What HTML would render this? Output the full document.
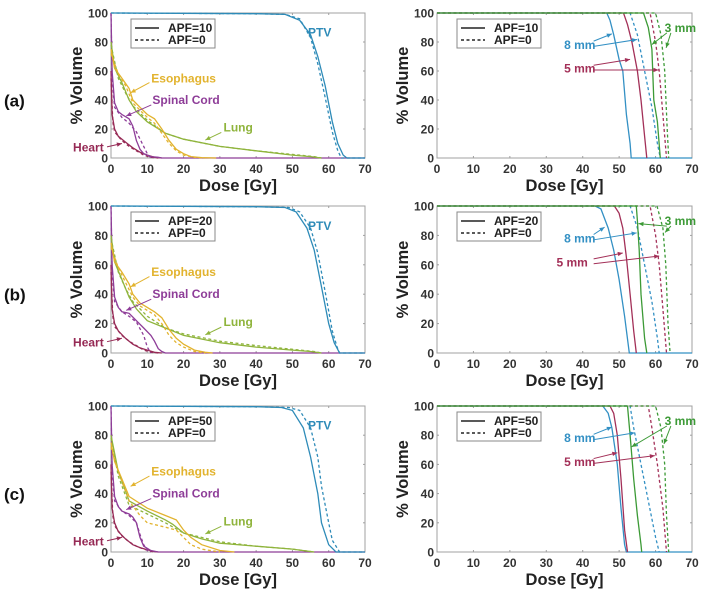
<!DOCTYPE html>
<html><head><meta charset="utf-8"><style>
html,body{margin:0;padding:0;background:#fff;}
svg{display:block;font-family:"Liberation Sans",Arial,sans-serif;}
</style></head><body>
<svg id="fig" width="706" height="594" viewBox="0 0 706 594"></svg>
<script>
// ---------- data (dose Gy, volume %) ----------
const panelLabels = ["(a)","(b)","(c)"];
const apfValues = ["APF=10","APF=20","APF=50"];
const xTicks = [0,10,20,30,40,50,60,70];
const yTicks = [0,20,40,60,80,100];

// Left panels: organ DVH curves
const A_PTV_S=[[0,100],[40,99.5],[48,99],[52,95],[55,85],[57,70],[59,50],[61,25],[62.5,10],[64,2],[65,0],[70,0]];
const A_PTV_D=[[0,100],[40,99.5],[48,99],[52,96],[55,83],[57,65],[59,42],[61,18],[62.5,5],[63.5,0],[70,0]];
const A_ESO_S=[[0,75],[1,62],[3,55],[5,48],[6,40],[8,35],[10,30],[12,27],[14,20],[16,12],[18,6],[20,3],[22,1],[25,0.3],[29,0]];
const A_ESO_D=[[0,72],[2,58],[4,50],[6,38],[8,33],[10,28],[12,24],[14,17],[16,10],[18,5],[20,2],[23,0.5],[26,0]];
const A_LUNG_S=[[0,80],[1,62],[3,52],[5,40],[7,32],[10,25],[15,17],[20,13],[30,8],[40,5],[50,2],[55,1],[58,0]];
const A_LUNG_D=[[0,78],[2,55],[4,45],[6,36],[10,26],[15,17],[20,13],[30,8],[40,5],[50,2.5],[56,1],[58,0]];
const A_CORD_S=[[0,100],[0.3,60],[1,38],[2,32],[3,30],[5,27],[6,22],[7,12],[8,6],[9,3],[11,1],[13,0.5],[14,0],[70,0]];
const A_CORD_D=[[0,100],[0.3,55],[1,35],[3,28],[5,24],[7,18],[9,8],[10,3],[11,0]];
const A_HEART_S=[[0,60],[0.3,30],[1,20],[2,15],[4,11],[6,7],[8,4],[10,2],[12,0.5],[14,0]];
const A_HEART_D=[[0,55],[0.5,25],[1,18],[3,12],[5,8],[7,5],[9,2],[11,0.5],[13,0]];

const B_PTV_S=[[0,100],[40,99.5],[48,99],[51,96],[54,85],[56,70],[58,45],[60,20],[61.5,7],[63,0],[70,0]];
const B_PTV_D=[[0,100],[40,99.5],[49,99],[52,96],[55,85],[57,68],[59,42],[61,15],[62.3,4],[63,0],[70,0]];
const B_ESO_S=[[0,75],[1,62],[3,55],[5,47],[6,40],[8,34],[10,31],[12,28],[14,24],[16,16],[18,10],[20,6],[23,2],[26,0.5],[28,0]];
const B_ESO_D=[[0,72],[2,58],[4,48],[6,38],[8,32],[10,29],[12,26],[14,20],[16,12],[18,7],[20,4],[23,1],[26,0]];
const B_LUNG_S=[[0,80],[1,62],[3,50],[5,38],[7,30],[10,22],[15,17],[20,12],[30,7],[40,4],[50,2],[55,1],[58,0]];
const B_LUNG_D=[[0,78],[2,55],[4,44],[6,35],[10,25],[15,17],[20,13],[30,8],[40,5],[50,2.5],[56,1],[58,0]];
const B_CORD_S=[[0,100],[0.3,60],[1,38],[2,31],[3,28],[5,27],[7,22],[9,17],[11,12],[12,8],[13,3],[14,1],[15,0],[70,0]];
const B_CORD_D=[[0,100],[0.3,55],[1,35],[3,28],[5,25],[7,21],[9,12],[10,4],[11,0]];
const B_HEART_S=[[0,60],[0.3,30],[1,20],[2,15],[4,10],[6,6],[8,3.5],[10,2],[12,0.5],[14,0]];
const B_HEART_D=[[0,55],[0.5,25],[1,18],[3,12],[5,8],[7,5],[9,2],[11,0.5],[13,0]];

const C_PTV_S=[[0,100],[40,99.5],[47,99],[50,97],[53,85],[55,65],[57,40],[58,20],[60,5],[62,0],[70,0]];
const C_PTV_D=[[0,100],[40,99.5],[49,99],[52,97],[55,85],[57,65],[58,45],[60,20],[61,8],[63,0],[70,0]];
const C_ESO_S=[[0,75],[1,62],[3,50],[5,38],[10,30],[15,25],[18,22],[20,15],[22,10],[25,5],[30,1],[34,0]];
const C_ESO_D=[[0,72],[2,55],[5,35],[8,25],[10,20],[15,17],[18,15],[20,10],[22,5],[25,2],[30,0]];
const C_LUNG_S=[[0,80],[2,55],[5,35],[10,28],[15,22],[17,19],[20,13],[25,9],[30,6],[40,4],[50,2],[56,0]];
const C_LUNG_D=[[0,78],[2,52],[5,32],[10,26],[15,20],[20,13],[30,7],[40,4],[50,2],[56,0]];
const C_CORD_S=[[0,100],[0.3,60],[1,38],[2,31],[3,28],[5,26],[6,24],[7,20],[8,10],[9,4],[11,1],[13,0],[70,0]];
const C_CORD_D=[[0,100],[0.3,55],[1,35],[3,28],[5,25],[7,20],[8,12],[9,5],[10,1],[11,0]];
const C_HEART_S=[[0,60],[0.3,30],[1,20],[2,14],[4,9],[6,5],[8,3],[10,1.5],[12,0.3],[13,0]];
const C_HEART_D=[[0,55],[0.5,25],[1,18],[3,11],[5,7],[7,4],[9,2],[11,0.5],[12,0]];

// Right panels: PTV DVH for margins 8/5/3 mm
const A_M8_S=[[0,100],[46.6,100],[47.5,95],[48.5,85],[50,68],[51,60],[52,30],[53,10],[53.3,0],[70,0]];
const A_M8_D=[[0,100],[53,100],[55,85],[57,60],[59,35],[60.5,10],[61.3,0]];
const A_M5_S=[[0,100],[51.2,100],[52.3,92],[53.5,80],[55,60],[56,40],[57,15],[57.6,0]];
const A_M5_D=[[0,100],[58.5,100],[60,80],[61,60],[62,30],[63,0]];
const A_M3_S=[[0,100],[56.7,100],[58,90],[59,75],[59.5,40],[60.5,25],[61.3,0]];
const A_M3_D=[[0,100],[60,100],[61.5,85],[62.5,60],[63.2,20],[63.6,0]];

const B_M8_S=[[0,100],[43.4,100],[45,98],[47,85],[48.5,70],[50,50],[51.5,25],[52.8,0],[70,0]];
const B_M8_D=[[0,100],[53,100],[55,85],[57,60],[59,35],[60.5,10],[61,0]];
const B_M5_S=[[0,100],[48.7,100],[50,95],[51,85],[52,65],[53,40],[54,15],[54.7,0]];
const B_M5_D=[[0,100],[58.5,100],[60,80],[61,60],[62,30],[63,0]];
const B_M3_S=[[0,100],[54.7,100],[55,90],[55.5,70],[56,40],[57,10],[57.6,0]];
const B_M3_D=[[0,100],[60.4,100],[62,85],[62.8,60],[63.4,20],[64,0]];

const C_M8_S=[[0,100],[45.5,100],[47,95],[48,85],[49.5,60],[50.5,30],[51.5,5],[52,0],[70,0]];
const C_M8_D=[[0,100],[53,100],[54,85],[56,60],[58,35],[60,10],[61,0]];
const C_M5_S=[[0,100],[47.5,100],[48.5,95],[49.5,80],[50.5,50],[51.5,15],[52.3,0]];
const C_M5_D=[[0,100],[58,100],[59,85],[60.5,60],[62,30],[63,0]];
const C_M3_S=[[0,100],[52.3,100],[53,80],[54,50],[55,25],[56,5],[56.2,0]];
const C_M3_D=[[0,100],[60,100],[61.5,85],[62.5,60],[63,25],[63.6,0]];

// ---------- rendering ----------
const NS="http://www.w3.org/2000/svg";
const svg=document.getElementById('fig');
const COL={ptv:"#2e8bb8",eso:"#e2b32e",lung:"#8fb43c",cord:"#8e3d98",heart:"#962a55",m8:"#3390c4",m5:"#a33058",m3:"#3c9a36"};
const panelsY=[[13,158],[206,353],[406,552]];
const leftX=[111,365], rightX=[437,692];

function el(tag,attrs,parent){const e=document.createElementNS(NS,tag);for(const k in attrs)e.setAttribute(k,attrs[k]);(parent||svg).appendChild(e);return e;}
function mkScales(xr,yr){return{x:d=>xr[0]+(xr[1]-xr[0])*d/70,y:v=>yr[1]-(yr[1]-yr[0])*v/100};}

function drawAxes(g,s,xr,yr,apf){
  const box=el('rect',{x:xr[0],y:yr[0],width:xr[1]-xr[0],height:yr[1]-yr[0],fill:'#fff',stroke:'#a0a0a0','stroke-width':1},g);
  
  
  xTicks.forEach(t=>{
    const x=s.x(t);
    el('line',{x1:x,y1:yr[1],x2:x,y2:yr[1]-2,stroke:'#a0a0a0'},g);
    el('line',{x1:x,y1:yr[0],x2:x,y2:yr[0]+2,stroke:'#a0a0a0'},g);
    const tx=el('text',{x:x,y:yr[1]+15,'text-anchor':'middle','font-size':12,'font-weight':'bold',fill:'#333'},g);
    tx.textContent=t;
    
    
  });
  yTicks.forEach(t=>{
    const y=s.y(t);
    el('line',{x1:xr[0],y1:y,x2:xr[0]+2,y2:y,stroke:'#a0a0a0'},g);
    el('line',{x1:xr[1],y1:y,x2:xr[1]-2,y2:y,stroke:'#a0a0a0'},g);
    const ty=el('text',{x:xr[0]-3,y:y+4.5,'text-anchor':'end','font-size':12,'font-weight':'bold',fill:'#333'},g);
    ty.textContent=t;
    
    
  });
  const xt=el('text',{x:(xr[0]+xr[1])/2,y:yr[1]+33,'text-anchor':'middle','font-size':16.5,'font-weight':'bold',fill:'#222'},g);
  xt.textContent='Dose [Gy]';
  
  
  const cy=(yr[0]+yr[1])/2, cx=xr[0]-29;
  const yt=el('text',{x:cx,y:cy,'text-anchor':'middle','font-size':16.5,'font-weight':'bold',fill:'#222',transform:`rotate(-90 ${cx} ${cy})`},g);
  yt.textContent='% Volume';
  
  
  // legend
  const lx=xr[0]+20, ly=yr[0]+6;
  const lg=el('g',{},g);
  
  
  el('rect',{x:lx,y:ly,width:84,height:29,fill:'#fff',stroke:'#888'},lg);
  el('line',{x1:lx+4,y1:ly+9,x2:lx+28,y2:ly+9,stroke:'#222','stroke-width':1.5},lg);
  el('line',{x1:lx+4,y1:ly+21,x2:lx+28,y2:ly+21,stroke:'#222','stroke-width':1.5,'stroke-dasharray':'3,2.5'},lg);
  const t1=el('text',{x:lx+37,y:ly+13,'font-size':12,'font-weight':'bold',fill:'#222'},lg);
  t1.textContent=apf;
  
  
  const t2=el('text',{x:lx+37,y:ly+25,'font-size':12,'font-weight':'bold',fill:'#222'},lg);
  t2.textContent='APF=0';
  
  
}

function curve(g,s,pts,color,dashed,name){
  const d=pts.map((p,i)=>(i?'L':'M')+s.x(p[0]).toFixed(1)+','+s.y(p[1]).toFixed(1)).join(' ');
  const p=el('path',{d:d,fill:'none',stroke:color,'stroke-width':1.3,'stroke-dasharray':dashed?'3,2.5':'none'},g);
  
  
}
function label(g,s,d,v,txt,color,anchor,name){
  const t=el('text',{x:s.x(d),y:s.y(v)+4,'font-size':12,'font-weight':'bold',fill:color,'text-anchor':anchor||'start'},g);
  t.textContent=txt;
  
  
}
function arrow(g,s,d1,v1,d2,v2,color){
  const x1=s.x(d1),y1=s.y(v1),x2=s.x(d2),y2=s.y(v2);
  const a=el('line',{x1:x1,y1:y1,x2:x2,y2:y2,stroke:color,'stroke-width':1},g);
  
  
  const ang=Math.atan2(y2-y1,x2-x1),L=5,W=2.2;
  const bx=x2-L*Math.cos(ang),by=y2-L*Math.sin(ang);
  el('polygon',{points:`${x2},${y2} ${bx-W*Math.sin(ang)},${by+W*Math.cos(ang)} ${bx+W*Math.sin(ang)},${by-W*Math.cos(ang)}`,fill:color},g);
}

const leftData=[
 [A_PTV_S,A_PTV_D,A_ESO_S,A_ESO_D,A_LUNG_S,A_LUNG_D,A_CORD_S,A_CORD_D,A_HEART_S,A_HEART_D],
 [B_PTV_S,B_PTV_D,B_ESO_S,B_ESO_D,B_LUNG_S,B_LUNG_D,B_CORD_S,B_CORD_D,B_HEART_S,B_HEART_D],
 [C_PTV_S,C_PTV_D,C_ESO_S,C_ESO_D,C_LUNG_S,C_LUNG_D,C_CORD_S,C_CORD_D,C_HEART_S,C_HEART_D]];
const rightData=[
 [A_M8_S,A_M8_D,A_M5_S,A_M5_D,A_M3_S,A_M3_D],
 [B_M8_S,B_M8_D,B_M5_S,B_M5_D,B_M3_S,B_M3_D],
 [C_M8_S,C_M8_D,C_M5_S,C_M5_D,C_M3_S,C_M3_D]];
const organKeys=['ptv','eso','lung','cord','heart'];
const marginKeys=['m8','m5','m3'];

panelsY.forEach((yr,i)=>{
  const pl=el('text',{x:4,y:(yr[0]+yr[1])/2+21,'font-size':17,'font-weight':'bold',fill:'#111'});
  pl.textContent=panelLabels[i];
  
  

  const gl=el('g',{});
  
  
  const sl=mkScales(leftX,yr);
  drawAxes(gl,sl,leftX,yr,apfValues[i]);
  const ld=leftData[i];
  [4,3,2,1,0].forEach(k=>{
    curve(gl,sl,ld[2*k+1],COL[organKeys[k]],true,organKeys[k]+'-apf0-line');
    curve(gl,sl,ld[2*k],COL[organKeys[k]],false,organKeys[k]+'-apf-line');
  });
  label(gl,sl,54.3,86.5,'PTV',COL.ptv,'start','ptv-label');
  label(gl,sl,11.1,55,'Esophagus',COL.eso,'start','esophagus-label');
  arrow(gl,sl,10.6,52,5.4,45,COL.eso);
  label(gl,sl,11.4,40,'Spinal Cord',COL.cord,'start','spinal-cord-label');
  arrow(gl,sl,11.1,36.6,4.2,29,COL.cord);
  label(gl,sl,31,21,'Lung',COL.lung,'start','lung-label');
  arrow(gl,sl,30.4,17.6,26,12.4,COL.lung);
  label(gl,sl,-2.0,7.3,'Heart',COL.heart,'end','heart-label');
  arrow(gl,sl,-1.1,7.7,3,10,COL.heart);

  const gr=el('g',{});
  
  
  const sr=mkScales(rightX,yr);
  drawAxes(gr,sr,rightX,yr,apfValues[i]);
  const rd=rightData[i];
  [0,1,2].forEach(k=>{
    curve(gr,sr,rd[2*k+1],COL[marginKeys[k]],true,marginKeys[k]+'-apf0-line');
    curve(gr,sr,rd[2*k],COL[marginKeys[k]],false,marginKeys[k]+'-apf-line');
  });
  label(gr,sr,34.9,78,'8 mm',COL.m8,'start','8mm-label');
  arrow(gr,sr,43,80.6,[48,46,48][i],85.6,COL.m8);
  arrow(gr,sr,43,77,[54.9,54.8,54.3][i],81.7,COL.m8);
  label(gr,sr,i==1?32.8:34.9,61.6,'5 mm',COL.m5,'start','5mm-label');
  arrow(gr,sr,43,64,[53,51,49.5][i],68,COL.m5);
  arrow(gr,sr,43,60.7,[60.8,61,59.8][i],[60.7,66,66][i],COL.m5);
  label(gr,sr,62.5,89.7,'3 mm',COL.m3,'start','3mm-label');
  arrow(gr,sr,63.1,86.3,[59,55.3,53.4][i],[78.3,88,72][i],COL.m3);
  arrow(gr,sr,64.2,86.3,[62.9,62.6,62.3][i],[76,82,74][i],COL.m3);
});
</script>
</body></html>
